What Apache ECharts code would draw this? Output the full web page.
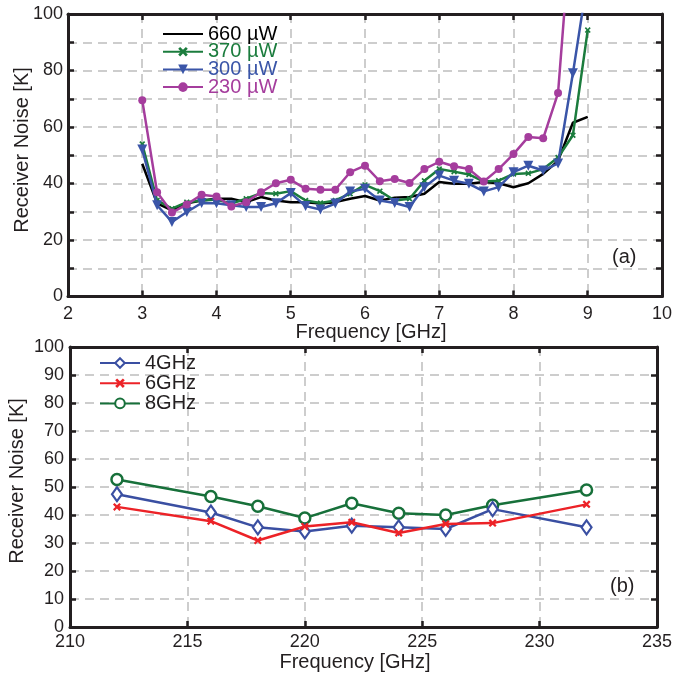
<!DOCTYPE html>
<html><head><meta charset="utf-8">
<script src="https://cdn.jsdelivr.net/npm/echarts@6/dist/echarts.min.js"></script>
<style>html,body{margin:0;padding:0;background:#fff}#c{width:675px;height:675px}</style>
</head><body><div id="c"></div>
<script>
// ---- Data (a) ----
const freqA = [3.0,3.2,3.4,3.6,3.8,4.0,4.2,4.4,4.6,4.8,5.0,5.2,5.4,5.6,5.8,6.0,6.2,6.4,6.6,6.8,7.0,7.2,7.4,7.6,7.8,8.0,8.2,8.4,8.6,8.8,9.0];
const p660 = [47,33,30.5,33,34,34.6,34.6,33.4,35.2,34,33.4,33.4,32.9,33.4,34.6,35.6,34,35,35.2,36.4,40.5,39.9,39.9,40.5,40.1,38.7,40.1,43.4,48,61.5,63.6];
const p370 = [54,34,31.1,33.4,34,34.3,32.9,34.6,36.6,36.4,37.3,34,33.1,34,36.4,39.5,37.3,34,34.6,41,45.1,44.2,43.2,40.7,41,43.4,43.6,45.1,49.2,57.1,94.3];
const p300 = [52,32.3,26.4,29.9,33.1,33,32.3,31.7,31.7,33,36.6,32,30.8,32.9,37.2,38.1,34,33.1,31.7,38.7,42.8,41,39.9,37.2,38.7,44,46.3,44.6,47.1,79,113];
const p230 = [69.5,36.9,29.7,32.6,36,35.4,31.9,33.4,36.9,40.1,41.3,38.1,37.8,37.8,44,46.3,40.8,41.6,40.2,45.1,47.7,46.1,45.1,40.7,45.1,50.4,56.5,56,72,140];
const namesA = ['660 \u00b5W','370 \u00b5W','300 \u00b5W','230 \u00b5W'];
const ticksAx = [2,10,1];
const ticksAy = [0,100,20];
// ---- Data (b) ----
const freqB = [212,216,218,220,222,224,226,228,232];
const g4 = [47.4,40.9,35.6,34.1,36.2,35.6,35,42.1,35.6];
const g6 = [42.9,37.8,30.9,35.9,37.4,33.6,36.8,37.1,43.8];
const g8 = [52.7,46.6,43.1,38.9,44.2,40.6,40,43.5,48.9];
const namesB = ['4GHz','6GHz','8GHz'];
const ticksBx = [210,235,5];
const ticksBy = [0,100,10];
const yTitle = 'Receiver Noise [K]';
const xTitle = 'Frequency [GHz]';

const zip = (xs, ys) => ys.map((y,i)=>[xs[i], y]);
const FONT = 'Liberation Sans';
const TXT = '#231f20';
const cBlack='#000000', cGreen='#1b7c3d', cBlue='#3a55a8', cPurple='#a53d9d';
const bBlue='#3a4fa2', bRed='#ec2227', bGreen='#17703a';
const xPath = 'path://M0,2 L2,0 L5,3 L8,0 L10,2 L7,5 L10,8 L8,10 L5,7 L2,10 L0,8 L3,5 Z';

function axisCommon(showLabel, margin){
  return {
    axisLine:{show:true,onZero:false,lineStyle:{color:'#231f20',width:3}},
    axisTick:{show:true,inside:true,length:6,lineStyle:{color:'#231f20',width:2.5}},
    axisLabel:{show:showLabel,color:TXT,fontFamily:FONT,fontSize:18,margin:margin},
  };
}
const gridLine = {show:true,lineStyle:{color:'#bdbdbd',width:1.5,type:[9,6]}};

function mkX(gi, t, pos, label, margin){
  return Object.assign(axisCommon(label,margin),{
    type:'value', gridIndex:gi, position:pos, min:t[0], max:t[1], interval:t[2],
    splitLine: pos==='bottom'?gridLine:{show:false}
  });
}
function mkY(gi, t, pos, label, minor, margin){
  const o = Object.assign(axisCommon(label,margin),{
    type:'value', gridIndex:gi, position:pos, min:t[0], max:t[1], interval:t[2],
    splitLine: pos==='left'?gridLine:{show:false}
  });
  if(minor){
    o.minorTick={show:true,splitNumber:2,length:6,lineStyle:{color:'#231f20',width:2.5}};
    if(pos==='left') o.minorSplitLine={show:true,lineStyle:{color:'#bdbdbd',width:1.5,type:[9,6]}};
  }
  return o;
}
const tStyle = (txt)=>({text:txt,font:'20px "Liberation Sans"',fill:TXT,align:'center',verticalAlign:'middle'});

const chart = echarts.init(document.getElementById('c'),null,{renderer:'canvas'});
const option = {
  animation:false,
  textStyle:{fontFamily:FONT},
  grid:[
    {left:68,right:10,top:14,height:282.5},
    {left:70,right:10,top:347,height:280}
  ],
  xAxis:[
    mkX(0,ticksAx,'bottom',true,9),
    mkX(0,ticksAx,'top',false,0),
    mkX(1,ticksBx,'bottom',true,6),
    mkX(1,ticksBx,'top',false,0)
  ],
  yAxis:[
    mkY(0,ticksAy,'left',true,true,5),
    mkY(0,ticksAy,'right',false,true,5),
    mkY(1,ticksBy,'left',true,false,6),
    mkY(1,ticksBy,'right',false,false,6)
  ],
  legend:[
    {orient:'vertical',left:162,top:24,padding:0,itemWidth:40,itemHeight:12,itemGap:-2.3,
     textStyle:{fontFamily:FONT,fontSize:20},
     data:[
      {name:namesA[0],textStyle:{color:cBlack},itemStyle:{opacity:0}},
      {name:namesA[1],textStyle:{color:cGreen}},
      {name:namesA[2],textStyle:{color:cBlue}},
      {name:namesA[3],textStyle:{color:cPurple}}
     ]},
    {orient:'vertical',left:99,top:353,padding:0,itemWidth:40,itemHeight:12,itemGap:0.2,
     textStyle:{fontFamily:FONT,fontSize:20,color:TXT},
     data:namesB}
  ],
  graphic:[
    {type:'text',x:22,y:150,rotation:Math.PI/2,style:tStyle(yTitle)},
    {type:'text',x:17,y:481,rotation:Math.PI/2,style:tStyle(yTitle)},
    {type:'text',x:371,y:332,style:tStyle(xTitle)},
    {type:'text',x:355,y:662,style:tStyle(xTitle)},
    {type:'text',left:612,top:247,style:{text:'(a)',font:'20px "Liberation Sans"',fill:TXT}},
    {type:'text',left:610,top:576,style:{text:'(b)',font:'20px "Liberation Sans"',fill:TXT}}
  ],
  series:[
    {name:namesA[0],type:'line',xAxisIndex:0,yAxisIndex:0,data:zip(freqA,p660),
     showSymbol:false,symbol:'none',lineStyle:{color:cBlack,width:2.5},itemStyle:{color:cBlack},clip:true,z:2},
    {name:namesA[1],type:'line',xAxisIndex:0,yAxisIndex:0,data:zip(freqA,p370),
     symbol:xPath,symbolSize:6,lineStyle:{color:cGreen,width:2.5},itemStyle:{color:cGreen},clip:true,z:3},
    {name:namesA[2],type:'line',xAxisIndex:0,yAxisIndex:0,data:zip(freqA,p300),
     symbol:'triangle',symbolRotate:180,symbolSize:10,lineStyle:{color:cBlue,width:2.5},itemStyle:{color:cBlue},clip:true,z:4},
    {name:namesA[3],type:'line',xAxisIndex:0,yAxisIndex:0,data:zip(freqA,p230),
     symbol:'circle',symbolSize:8,lineStyle:{color:cPurple,width:2.5},itemStyle:{color:cPurple},clip:true,z:5},
    {name:namesB[0],type:'line',xAxisIndex:2,yAxisIndex:2,data:zip(freqB,g4),
     symbol:'diamond',symbolSize:[10,14],lineStyle:{color:bBlue,width:2.5},
     itemStyle:{color:'#fff',borderColor:bBlue,borderWidth:2.2},z:3},
    {name:namesB[1],type:'line',xAxisIndex:2,yAxisIndex:2,data:zip(freqB,g6),
     symbol:xPath,symbolSize:8,lineStyle:{color:bRed,width:2.5},itemStyle:{color:bRed},z:4},
    {name:namesB[2],type:'line',xAxisIndex:2,yAxisIndex:2,data:zip(freqB,g8),
     symbol:'circle',symbolSize:11,lineStyle:{color:bGreen,width:2.5},
     itemStyle:{color:'#fff',borderColor:bGreen,borderWidth:2.5},z:2}
  ]
};
chart.setOption(option);
</script></body></html>
